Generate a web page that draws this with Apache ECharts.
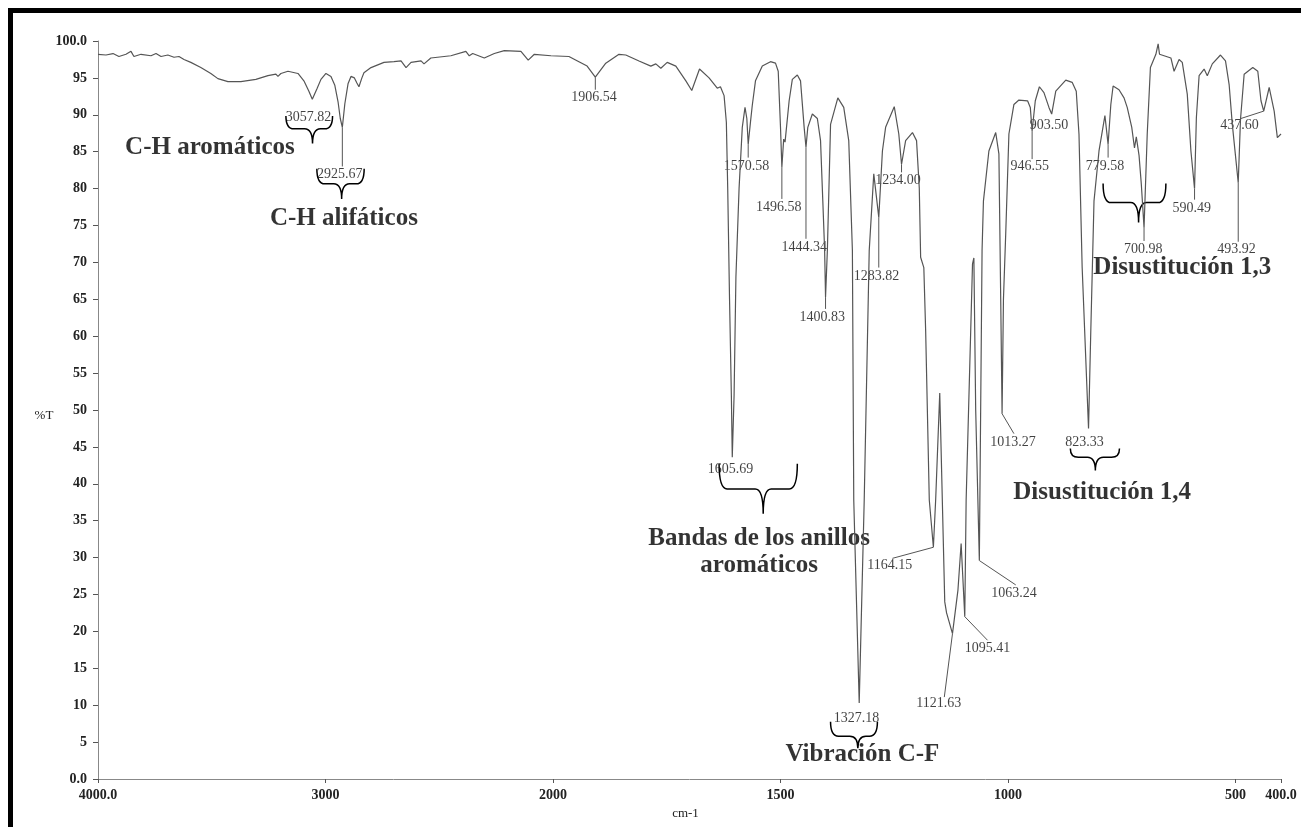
<!DOCTYPE html>
<html>
<head>
<meta charset="utf-8">
<title>Espectro IR</title>
<script src="https://cdn.jsdelivr.net/npm/echarts@6/dist/echarts.min.js"></script>
<style>
	html, body { margin: 0; padding: 0; background: #fff; }
	#main { width: 1301px; height: 827px; }
</style>
</head>
<body>
<div id="main"></div>
<script>
// espectro: numero de onda (cm-1) y %T
var wavenumbers = [4000, 3965, 3934, 3908, 3877, 3855, 3842, 3811, 3767, 3745, 3723, 3693, 3666, 3644, 3622, 3592,
	3548, 3504, 3473, 3429, 3372, 3306, 3253, 3218, 3209, 3196, 3165, 3121, 3095, 3073, 3058, 3038, 3020, 2998,
	2976, 2959, 2945, 2935, 2926, 2915, 2901, 2888, 2873, 2862, 2853, 2840, 2831, 2800, 2743, 2699, 2668, 2646,
	2624, 2580, 2567, 2537, 2449, 2383, 2368, 2353, 2302, 2258, 2214, 2141, 2109, 2082, 2009,
	1965, 1943, 1925, 1907, 1884, 1855, 1840, 1811, 1785, 1774, 1763, 1749, 1730, 1708, 1695, 1678, 1657, 1639,
	1632, 1624, 1619, 1616, 1612, 1608, 1606, 1602, 1598, 1591, 1584, 1578, 1574, 1571, 1566, 1562, 1555, 1540,
	1522, 1511, 1505, 1500, 1497, 1493, 1490, 1481, 1474, 1463, 1456, 1448, 1444, 1440, 1430, 1419, 1412, 1407,
	1403, 1401, 1397, 1390, 1374, 1361, 1350, 1342, 1339, 1327, 1316, 1305, 1295, 1284, 1276, 1269, 1250, 1240,
	1234, 1225, 1210, 1201, 1195, 1192, 1185, 1181, 1173, 1164, 1159, 1150, 1139, 1135, 1122, 1110, 1103, 1095,
	1092, 1078, 1075, 1071, 1063, 1057, 1054, 1042, 1027, 1020, 1016, 1013, 1010, 1005, 998, 987, 976, 957, 951,
	947, 940, 931, 921, 910, 904, 895, 873, 859, 850, 844, 837, 823, 818, 811, 800, 787, 780, 774, 769, 756, 745,
	738, 728, 722, 718, 712, 707, 701, 694, 687, 675, 670, 667, 657, 642, 635, 624, 617, 606, 598, 590, 586, 580,
	569, 562, 551, 533, 522, 514, 507, 494, 489, 481, 462, 451, 444, 438, 426, 415, 408, 400];
var transmittance = [98.2, 98.1, 98.3, 97.9, 98.2, 98.6, 97.9, 98.2, 98.0, 98.3, 97.9, 98.1, 97.8, 97.9, 97.5, 97.1,
	96.4, 95.6, 94.9, 94.5, 94.5, 94.8, 95.3, 95.5, 95.2, 95.6, 95.9, 95.6, 94.6, 93.2, 92.1, 93.5, 94.8, 95.6,
	95.2, 94.0, 91.8, 89.5, 88.3, 91.5, 94.2, 95.2, 95.0, 94.3, 93.8, 95.0, 95.7, 96.4, 97.1, 97.2, 97.3, 96.4,
	97.1, 97.3, 96.9, 97.7, 98.0, 98.6, 98.0, 98.3, 97.7, 98.3, 98.7, 98.6, 97.4, 98.2, 98.0,
	97.9, 97.2, 96.6, 95.1, 97.0, 98.2, 98.1, 97.3, 96.6, 96.9, 96.3, 97.1, 96.6, 94.6, 93.3, 96.2, 95.0, 93.6,
	93.8, 92.6, 89.0, 80.0, 65.0, 52.0, 43.6, 52.0, 68.0, 80.1, 88.3, 91.0, 89.5, 86.0, 89.0, 91.3, 94.6, 96.6,
	97.2, 97.0, 95.9, 88.3, 82.9, 86.7, 86.3, 91.9, 94.8, 95.4, 94.6, 88.3, 85.6, 88.3, 90.1, 89.5, 86.5, 78.3,
	71.6, 65.3, 71.6, 88.7, 92.3, 91.0, 86.5, 71.6, 37.8, 10.3, 37.8, 71.6, 82.0, 76.1, 85.1, 88.3, 91.1, 87.4,
	83.3, 86.5, 87.6, 86.5, 80.1, 70.7, 69.3, 60.8, 37.8, 31.4, 37.8, 52.3, 24.0, 22.5, 19.7, 25.6, 31.9, 22.0,
	37.8, 69.8, 70.6, 50.0, 29.6, 71.6, 78.3, 85.1, 87.6, 84.7, 65.0, 49.5, 65.0, 73.9, 87.4, 91.4, 92.0, 91.9, 91.0,
	87.8, 91.9, 93.8, 93.0, 91.0, 90.1, 93.2, 94.7, 94.4, 93.2, 87.4, 69.3, 47.5, 60.8, 78.3, 85.1, 89.9, 86.0, 91.4, 93.9, 93.4, 92.3,
	91.0, 88.3, 85.5, 87.0, 84.5, 80.6, 74.7, 87.4, 96.4, 98.2, 99.6, 98.2, 98.0, 97.7, 95.9, 97.5, 97.1, 92.8, 85.1, 80.0, 89.6, 95.3,
	96.2, 95.3, 96.9, 98.1, 97.3, 94.1, 88.7, 80.8, 89.4, 95.5, 96.4, 95.9, 91.9, 90.5, 93.7, 90.5, 86.9, 87.4];

// etiquetas de los picos (texto, posicion del texto)
var peakText = ['3057.82', '2925.67', '1906.54', '1605.69', '1570.58', '1496.58', '1444.34', '1400.83', '1327.18',
	'1283.82', '1234.00', '1164.15', '1121.63', '1095.41', '1063.24', '1013.27', '946.55', '903.50', '823.33',
	'779.58', '700.98', '590.49', '493.92', '437.60'];
var peakLabelWn = [3075, 2937, 1910, 1610, 1575, 1504, 1448, 1408, 1333, 1289, 1242, 1260, 1152, 1045, 987, 989,
	952, 910, 832, 787, 703, 596, 498, 491];
var peakLabelT = [89.6, 82.0, 92.3, 41.9, 83.0, 77.4, 72.0, 62.6, 8.2, 68.1, 81.1, 29.0, 10.2, 17.7, 25.1, 45.6,
	83.0, 88.6, 45.6, 83.0, 71.8, 77.3, 71.8, 88.6];

// lineas guia pico -> etiqueta: [cm-1 inicio, %T inicio, cm-1 fin, %T fin]
var leaderLines = [
	[2926, 88.3, 2926, 83.0], [1907, 95.1, 1907, 93.4], [1571, 86.0, 1571, 84.2], [1497, 82.9, 1497, 78.6],
	[1444, 85.6, 1444, 73.2], [1401, 65.3, 1401, 63.7], [1284, 76.1, 1284, 69.3], [1234, 83.3, 1234, 82.2],
	[1164, 31.4, 1254, 29.9], [1122, 19.7, 1140, 11.1], [1095, 22.0, 1045, 18.8], [1063, 29.6, 983, 26.3],
	[1013, 49.5, 987, 46.8], [947, 87.8, 947, 84.0], [780, 86.0, 780, 84.2], [701, 74.7, 701, 72.9],
	[590, 80.0, 590, 78.5], [494, 80.8, 494, 72.8], [438, 90.5, 488, 89.5]
];

// llaves
var braceLeftWn = [3174, 3038, 1635, 1390, 863, 791];
var braceRightWn = [2969, 2830, 1463, 1287, 755, 653];
var braceTipWn = [3057, 2929, 1538, 1330, 808, 713];
var braceTopT = [89.85, 82.7, 42.7, 7.75, 44.8, 80.7];
var braceMidT = [88.1, 80.65, 39.3, 5.8, 43.6, 78.1];
var braceTipT = [86.1, 78.6, 35.95, 4.15, 41.8, 75.4];

// textos de asignacion
var noteText = ['C-H aromáticos', 'C-H alifáticos', 'Bandas de los anillos\naromáticos', 'Vibración C-F',
	'Disustitución 1,4', 'Disustitución 1,3'];
var noteWn = [3508, 2919, 1547, 1320, 793, 617];
var noteT = [85.6, 75.9, 30.8, 3.25, 38.8, 69.3];

// ejes
var xTickValues = [4000, 3000, 2000, 1500, 1000, 500, 400];
var xTickLabels = ['4000.0', '3000', '2000', '1500', '1000', '500', '400.0'];
var yTickLabels = ['0.0', '5', '10', '15', '20', '25', '30', '35', '40', '45', '50', '55', '60', '65', '70', '75',
	'80', '85', '90', '95', '100.0'];

var SERIF = '"Liberation Serif", "Times New Roman", serif';

// escala con cambio a 2000 cm-1 (4000-2000 comprimido a la mitad)
function toPos(w) {
	return w >= 2000 ? (4000 - w) / 2 : 1000 + (2000 - w);
}

var xTickPos = xTickValues.map(toPos);

var spectrum = wavenumbers.map(function (w, i) { return [toPos(w), transmittance[i]]; });
var peakData = peakText.map(function (t, i) { return { name: t, value: [toPos(peakLabelWn[i]), peakLabelT[i]] }; });
var leaderData = leaderLines.map(function (l) { return [toPos(l[0]), l[1], toPos(l[2]), l[3]]; });
var braceData = braceLeftWn.map(function (w, i) {
	return [toPos(w), toPos(braceRightWn[i]), toPos(braceTipWn[i]), braceTopT[i], braceMidT[i], braceTipT[i]];
});
var noteData = noteText.map(function (t, i) { return { name: t, value: [toPos(noteWn[i]), noteT[i]] }; });

var myChart = echarts.init(document.getElementById('main'), null, { renderer: 'canvas' });

var option = {
	animation: false,
	backgroundColor: '#fff',
	grid: { left: 98, right: 20, top: 41, bottom: 48, containLabel: false },
	graphic: [
		{ type: 'rect', shape: { x: 8, y: 8, width: 1293, height: 5 }, style: { fill: '#000' } },
		{ type: 'rect', shape: { x: 8, y: 8, width: 5, height: 819 }, style: { fill: '#000' } },
		// titulo del eje y
		{ type: 'text', x: 44, y: 416, style: { text: '%T', font: '13px ' + SERIF, fill: '#222', align: 'center', verticalAlign: 'middle' } }
	],
	xAxis: {
		type: 'value',
		min: 0,
		max: 2600,
		name: 'cm-1',
		nameLocation: 'middle',
		nameGap: 27,
		nameTextStyle: { fontFamily: SERIF, fontSize: 13, color: '#222', padding: [0, 8, 0, 0] },
		axisLine: { show: true, onZero: false, lineStyle: { color: '#888', width: 1 } },
		axisTick: { show: true, length: 4, customValues: xTickPos, lineStyle: { color: '#555' } },
		axisLabel: {
			customValues: xTickPos,
			margin: 9,
			fontFamily: SERIF,
			fontSize: 14,
			fontWeight: 'bold',
			color: '#222',
			formatter: function (v) {
				var i = xTickPos.indexOf(v);
				return i >= 0 ? xTickLabels[i] : '';
			}
		},
		splitLine: { show: false }
	},
	yAxis: {
		type: 'value',
		min: 0,
		max: 100,
		interval: 5,
		axisLine: { show: true, lineStyle: { color: '#888', width: 1 } },
		axisTick: { show: true, length: 5, lineStyle: { color: '#555' } },
		axisLabel: {
			margin: 11,
			fontFamily: SERIF,
			fontSize: 14,
			fontWeight: 'bold',
			color: '#222',
			padding: [0, 0, 5, 0],
			formatter: function (v) { return yTickLabels[Math.round(v / 5)]; }
		},
		splitLine: { show: false }
	},
	series: [
		{
			name: 'espectro',
			type: 'line',
			data: spectrum,
			symbol: 'none',
			silent: true,
			lineStyle: { color: '#555', width: 1.2 }
		},
		{
			name: 'guias',
			type: 'custom',
			silent: true,
			data: leaderData,
			encode: { x: [0, 2], y: [1, 3] },
			renderItem: function (params, api) {
				var a = api.coord([api.value(0), api.value(1)]);
				var b = api.coord([api.value(2), api.value(3)]);
				return {
					type: 'line',
					shape: { x1: a[0], y1: a[1], x2: b[0], y2: b[1] },
					style: { stroke: '#555', lineWidth: 1 }
				};
			}
		},
		{
			name: 'llaves',
			type: 'custom',
			silent: true,
			data: braceData,
			encode: { x: [0, 1, 2], y: [3, 4, 5] },
			renderItem: function (params, api) {
				var l = api.coord([api.value(0), api.value(3)]);
				var r = api.coord([api.value(1), api.value(3)]);
				var m = api.coord([api.value(2), api.value(4)]);
				var t = api.coord([api.value(2), api.value(5)]);
				var ym = m[1];
				var rad = Math.min(8, t[1] - ym);
				var d = 'M' + l[0] + ' ' + l[1] +
					' Q' + l[0] + ' ' + ym + ' ' + (l[0] + rad) + ' ' + ym +
					' L' + (m[0] - rad) + ' ' + ym +
					' Q' + m[0] + ' ' + ym + ' ' + m[0] + ' ' + t[1] +
					' Q' + m[0] + ' ' + ym + ' ' + (m[0] + rad) + ' ' + ym +
					' L' + (r[0] - rad) + ' ' + ym +
					' Q' + r[0] + ' ' + ym + ' ' + r[0] + ' ' + r[1];
				return {
					type: 'path',
					shape: { pathData: d },
					style: { stroke: '#000', fill: null, lineWidth: 1.5 }
				};
			}
		},
		{
			name: 'picos',
			type: 'scatter',
			silent: true,
			symbolSize: 0,
			data: peakData,
			label: {
				show: true,
				position: 'inside',
				formatter: '{b}',
				fontFamily: SERIF,
				fontSize: 14,
				color: '#111'
			}
		},
		{
			name: 'asignaciones',
			type: 'scatter',
			silent: true,
			symbolSize: 0,
			data: noteData,
			label: {
				show: true,
				position: 'inside',
				formatter: '{b}',
				fontFamily: SERIF,
				fontSize: 25,
				fontWeight: 'bold',
				lineHeight: 27,
				align: 'center',
				color: '#000'
			}
		}
	]
};

myChart.setOption(option);
</script>
</body>
</html>
